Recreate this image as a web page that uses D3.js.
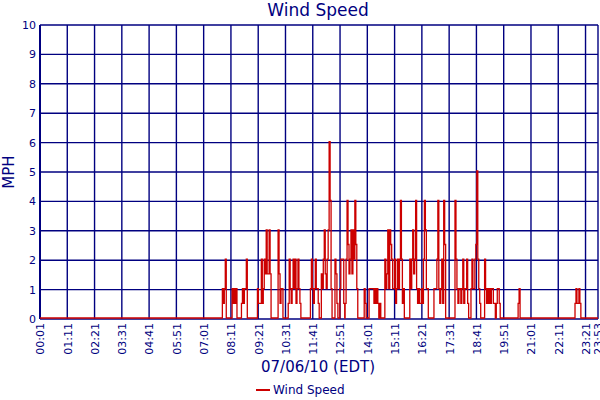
<!DOCTYPE html>
<html><head><meta charset="utf-8">
<script src="https://cdn.jsdelivr.net/npm/d3@7/dist/d3.min.js"></script>
<style>body{margin:0;background:#fff}text{font-family:"DejaVu Sans",Verdana,sans-serif}</style>
</head><body><svg id="c" width="600" height="400"></svg>
<script>
const tickLabels = ["00:01","01:11","02:21","03:31","04:41","05:51","07:01","08:11","09:21","10:31","11:41","12:51","14:01","15:11","16:21","17:31","18:41","19:51","21:01","22:11","23:21","23:53"];
const yTicks = [0,1,2,3,4,5,6,7,8,9,10];
const stepMinutes = 2.5;
const burstStarts = ["07:49","08:14","08:38","09:19","10:12","10:38","11:35","12:03","12:38","13:04","13:53","14:33","14:46","15:50","16:52","17:46","18:27","20:28","22:54"];
const burstValues = [
 [1,0.5,1,2],
 [1,0.5,1,0.5,1],
 [0.5,1,0.5,1,1,2],
 [1,0.5,0.5,0.5,2,0.5,1,2,1.5,3,1.5,1.5,3,1.5],
 [3,1.5,0.5,1,1],
 [0.5,2,1,0.5,1,2,1,2,0.5,1,2,1,0.5],
 [1,2,1,0.5,1,2,1,1,0.5],
 [1.5,1,2,3,1.5,1,2,3,6,4,1],
 [2,1.5,0.5,0,0,1,2,2,2,0.5],
 [0.5,2,4,2.5,1.5,2,3,1.5,3,2,4,2.5,1],
 [1,0.5,0,0,0,1,1,1,1,1,0.5,1,0.5,1,0.5],
 [0.5],
 [2,1,1.5,3,1,3,2.5,2,1,1,2,0.5,1,2,1,2,4,2,0.5,1],
 [2,1,2,3,1.5,2,4,1,0.5,1,0.5,0.5,1,0.5,2,4,3,1,1],
 [1,1,1,2,4,1,0.5,1,2,0.5,4,2.5],
 [4,2,1,0.5,1,1,0.5,1,2,0.5,1,1,2,0.5],
 [1,2,1,1,2,2.5,5,2,1,0.5,0,0,0,0,2,1,0.5,1,0.5,1,0.5,1,1,0.5,0.5,0,0.5,1,1,0.5],
 [0.5,1],
 [0.5,1,0.5,0.5,1,0.5]
];
const seriesName = "Wind Speed";

const toMin = s => { const [h,m] = s.split(":").map(Number); return h*60+m; };
const navy = "#000080", red = "#cc0000";
const svg = d3.select("#c");
const L = 40, R = 598, T = 25, B = 319;
const x = d3.scaleLinear().domain([toMin(tickLabels[0]), toMin(tickLabels[tickLabels.length-1])]).range([L, R]);
const y = d3.scaleLinear().domain([0, 10]).range([B, T]);

const g = svg.append("g");
g.selectAll(".h").data(yTicks).join("line").attr("x1",L).attr("x2",R).attr("y1",d=>y(d)).attr("y2",d=>y(d)).attr("stroke",navy).attr("stroke-width",1.4);
g.selectAll(".v").data(tickLabels).join("line").attr("x1",d=>x(toMin(d))).attr("x2",d=>x(toMin(d))).attr("y1",T).attr("y2",B).attr("stroke",navy).attr("stroke-width",1.4);
g.append("line").attr("x1",L).attr("x2",L).attr("y1",T).attr("y2",B).attr("stroke",navy).attr("stroke-width",2);

const yAxis = d3.axisLeft(y).tickValues(yTicks).tickSize(0).tickPadding(4);
svg.append("g").attr("transform",`translate(${L},0)`).call(yAxis)
  .call(s=>{s.select(".domain").remove();s.selectAll("text").attr("fill",navy).style("font-size","11px");});
const xAxis = d3.axisBottom(x).tickValues(tickLabels.map(toMin)).tickFormat((d,i)=>tickLabels[i]).tickSize(0).tickPadding(0);
svg.append("g").attr("transform",`translate(0,${B})`).call(xAxis)
  .call(s=>{s.select(".domain").remove();s.selectAll("text").attr("fill",navy).style("font-size","11px")
    .attr("text-anchor","end").attr("dy","0.35em").attr("transform","translate(0,4) rotate(-90)").attr("x",0).attr("y",0);});

const pts = [[x.domain()[0],0]];
burstStarts.forEach((s,i)=>{
  const t0 = toMin(s);
  pts.push([t0-stepMinutes,0]);
  burstValues[i].forEach((v,j)=>pts.push([t0+j*stepMinutes,v]));
  pts.push([t0+burstValues[i].length*stepMinutes,0]);
});
pts.push([x.domain()[1],0]);
svg.append("path").datum(pts).attr("fill","none").attr("stroke",red).attr("stroke-width",1.3)
  .attr("d",d3.line().curve(d3.curveStepAfter).x(d=>x(d[0])).y(d=>y(d[1])-1));

svg.append("text").attr("x",318).attr("y",16).attr("text-anchor","middle").attr("fill",navy).style("font-size","17px").text("Wind Speed");
svg.append("text").attr("transform","translate(14,172) rotate(-90)").attr("text-anchor","middle").attr("fill",navy).style("font-size","15px").text("MPH");
svg.append("text").attr("x",318).attr("y",372).attr("text-anchor","middle").attr("fill",navy).style("font-size","15px").text("07/06/10 (EDT)");
svg.append("line").attr("x1",256).attr("x2",270).attr("y1",390).attr("y2",390).attr("stroke",red).attr("stroke-width",2);
svg.append("text").attr("x",273).attr("y",394).attr("fill",navy).style("font-size","12px").text(seriesName);
</script></body></html>
